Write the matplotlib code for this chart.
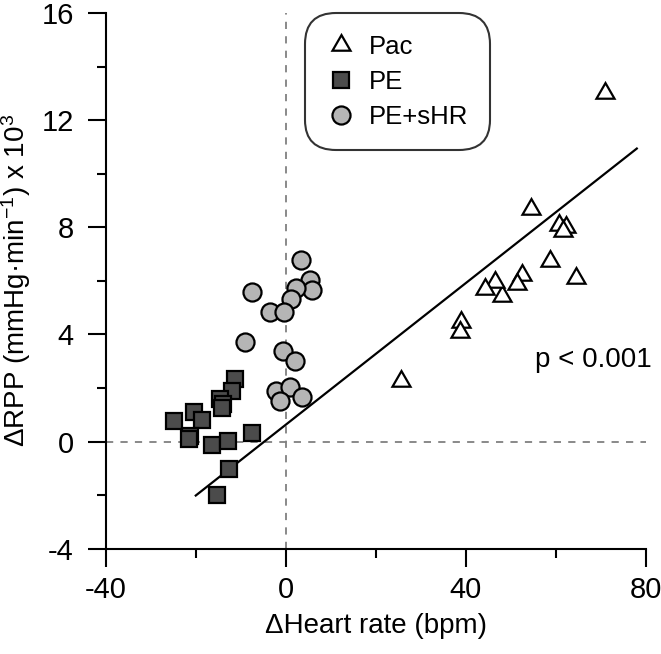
import numpy as np
import matplotlib
matplotlib.use("Agg")
import matplotlib.pyplot as plt

plt.rcParams['font.family'] = ['Liberation Sans', 'DejaVu Sans']
plt.rcParams['axes.unicode_minus'] = False
plt.rcParams['mathtext.fontset'] = 'custom'
plt.rcParams['mathtext.rm'] = 'Liberation Sans'
plt.rcParams['mathtext.it'] = 'Liberation Sans:italic'

#%% data
pac_hr = [71.0, 54.5, 60.7, 62.3, 61.5, 58.8, 64.4, 52.6, 51.4, 48.0, 46.4, 44.2, 39.0, 38.8, 25.5]
pac_rpp = [13.0, 8.68, 8.07, 8.03, 7.85, 6.73, 6.11, 6.23, 5.88, 5.45, 5.94, 5.71, 4.45, 4.08, 2.25]

pe_hr = [-11.2, -11.9, -14.7, -13.9, -14.2, -20.4, -18.7, -24.9, -21.2, -21.4, -16.4, -12.8, -7.6, -12.7, -15.2]
pe_rpp = [2.34, 1.88, 1.59, 1.42, 1.27, 1.09, 0.79, 0.78, 0.22, 0.08, -0.11, 0.01, 0.32, -1.04, -2.01]

sh_hr = [3.3, 5.4, 5.8, 2.2, 1.1, -7.4, -3.4, -0.4, -9.1, -0.6, 2.0, -2.1, 0.9, -1.2, 3.6]
sh_rpp = [6.77, 6.04, 5.65, 5.73, 5.32, 5.6, 4.84, 4.83, 3.73, 3.37, 3.01, 1.88, 2.03, 1.50, 1.67]

# regression line
fit_slope = 0.1322
fit_icpt = 0.63
fit_range = [-20.0, 78.0]

#%% figure
fig = plt.figure(figsize=(6.61, 6.54), dpi=100)
ax = fig.add_axes([0.160, 0.161, 0.817, 0.819])

ax.axvline(0, color='#808080', ls=(0, (4, 4)), lw=1.3, zorder=1)
ax.axhline(0, color='#808080', ls=(0, (4, 4)), lw=1.3, zorder=1)

fx = np.array(fit_range)
ax.plot(fx, fit_slope * fx + fit_icpt, color='black', lw=1.6, zorder=2)

mk = dict(ls='none', mec='black', mew=1.6, zorder=3)
ax.plot(pac_hr, pac_rpp, marker=(3, 0, 0), ms=15, mfc='white', label='Pac', **mk)
ax.plot(pe_hr, pe_rpp, marker='s', ms=12, mfc='#4b4b4b', label='PE', **mk)
ax.plot(sh_hr, sh_rpp, marker='o', ms=13, mfc='#b5b5b5', label='PE+sHR', **mk)

ax.set_xlim(-40, 80)
ax.set_ylim(-4, 16)
ax.set_xticks([-40, 0, 40, 80])
ax.set_xticks([-20, 20, 60], minor=True)
ax.set_yticks([-4, 0, 4, 8, 12, 16])
ax.set_yticks([-2, 2, 6, 10, 14], minor=True)

for s in ['top', 'right']:
    ax.spines[s].set_visible(False)
for s in ['left', 'bottom']:
    ax.spines[s].set_linewidth(1.5)

ax.tick_params(which='major', length=13, width=1.5, labelsize=21)
ax.tick_params(axis='x', which='major', pad=7)
ax.tick_params(axis='y', which='major', pad=10)
ax.tick_params(which='minor', length=6.5, width=1.5)

ax.set_xlabel('ΔHeart rate (bpm)', fontsize=20, labelpad=6)
ax.set_ylabel('ΔRPP (mmHg·min$^{-1}$) x 10$^{3}$', fontsize=20, labelpad=6)

ax.text(55.3, 3.06, 'p < 0.001', fontsize=20, ha='left', va='center')

leg = ax.legend(loc='upper left', bbox_to_anchor=(0.3685, 1.0), frameon=True,
                fontsize=18.5, handletextpad=0.55, labelspacing=0.42,
                borderpad=0.85, borderaxespad=0, handlelength=1.1, fancybox=True)
leg.get_frame().set_edgecolor('black')
leg.get_frame().set_linewidth(1.5)
leg.get_frame().set_boxstyle('round', pad=0, rounding_size=1.2)

fig.savefig('out.png', dpi=100)
